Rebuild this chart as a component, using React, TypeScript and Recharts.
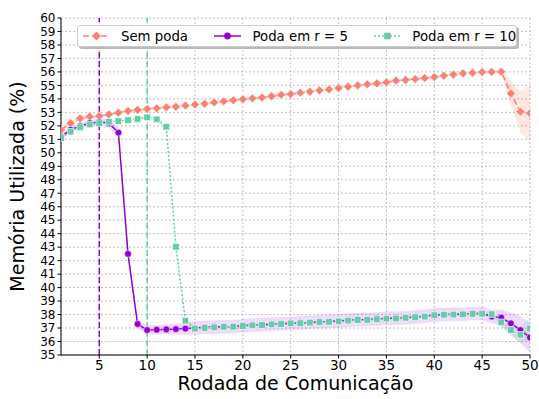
import React from "react";
import {
  Area,
  CartesianGrid,
  ComposedChart,
  Line,
  ReferenceLine,
  XAxis,
  YAxis,
} from "recharts";

const rounds = [
  1, 2, 3, 4, 5, 6, 7, 8, 9, 10, 11, 12, 13, 14, 15, 16, 17, 18, 19, 20, 21, 22, 23, 24, 25,
  26, 27, 28, 29, 30, 31, 32, 33, 34, 35, 36, 37, 38, 39, 40, 41, 42, 43, 44, 45, 46, 47, 48, 49, 50,
];

const semPoda = [
  51.7, 52.2, 52.56, 52.68, 52.73, 52.85, 52.98, 53.1, 53.18, 53.25, 53.3, 53.37, 53.42, 53.5, 53.57,
  53.64, 53.74, 53.82, 53.9, 53.97, 54.04, 54.1, 54.2, 54.3, 54.36, 54.46, 54.53, 54.63, 54.7, 54.8,
  54.9, 55.0, 55.08, 55.15, 55.23, 55.35, 55.4, 55.47, 55.55, 55.62, 55.72, 55.8, 55.9, 55.94, 55.99,
  56.0, 56.02, 54.4, 53.05, 52.93,
];

const podaR5 = [
  51.2, 51.7, 52.0, 52.2, 52.3, 52.2, 51.5, 42.5, 37.3, 36.85, 36.88, 36.9, 36.92, 36.96, 37.0,
  37.05, 37.08, 37.1, 37.12, 37.17, 37.22, 37.24, 37.28, 37.32, 37.36, 37.38, 37.42, 37.46, 37.48,
  37.52, 37.57, 37.62, 37.63, 37.67, 37.72, 37.73, 37.77, 37.82, 37.87, 37.96, 38.0, 38.02, 38.03,
  38.08, 38.08, 37.85, 37.77, 37.35, 36.85, 36.3,
];

const podaR10 = [
  51.1, 51.57, 51.9, 52.1, 52.2, 52.3, 52.35, 52.42, 52.5, 52.63, 52.48, 51.94, 43.03, 37.55, 36.96,
  37.0, 37.05, 37.1, 37.1, 37.15, 37.2, 37.22, 37.27, 37.3, 37.35, 37.36, 37.4, 37.44, 37.46, 37.5,
  37.55, 37.6, 37.61, 37.66, 37.7, 37.71, 37.76, 37.8, 37.85, 37.95, 37.99, 38.0, 38.01, 38.05,
  38.06, 38.03, 37.42, 36.85, 36.5, 36.98,
];

// half width of the shaded bands
const semPodaSpread = [
  0.25, 0.2, 0.15, 0.12, 0.1, 0.1, 0.1, 0.1, 0.1, 0.1, 0.1, 0.1, 0.1, 0.1, 0.1, 0.1, 0.1, 0.1, 0.1,
  0.1, 0.1, 0.1, 0.1, 0.1, 0.1, 0.1, 0.1, 0.1, 0.1, 0.1, 0.1, 0.1, 0.1, 0.1, 0.1, 0.1, 0.1, 0.1, 0.1,
  0.1, 0.1, 0.1, 0.1, 0.1, 0.1, 0.12, 0.15, 0.9, 1.5, 2.1,
];

const podaR5Spread = [
  0.2, 0.2, 0.2, 0.2, 0.25, 0.3, 0.35, 0.3, 0.3, 0.35, 0.35, 0.35, 0.4, 0.45, 0.5, 0.5, 0.5, 0.5, 0.5,
  0.5, 0.5, 0.5, 0.5, 0.5, 0.5, 0.5, 0.5, 0.5, 0.5, 0.5, 0.5, 0.5, 0.5, 0.5, 0.5, 0.5, 0.5, 0.5, 0.5,
  0.5, 0.5, 0.5, 0.5, 0.5, 0.5, 0.5, 0.6, 0.8, 1.0, 1.1,
];

const podaR10Spread = [
  0.1, 0.1, 0.1, 0.1, 0.1, 0.1, 0.1, 0.1, 0.1, 0.1, 0.1, 0.15, 0.3, 0.2, 0.1, 0.1, 0.1, 0.1, 0.1,
  0.1, 0.1, 0.1, 0.1, 0.1, 0.1, 0.1, 0.1, 0.1, 0.1, 0.1, 0.1, 0.1, 0.1, 0.1, 0.1, 0.1, 0.1, 0.1, 0.1,
  0.1, 0.1, 0.1, 0.1, 0.1, 0.1, 0.15, 0.3, 0.45, 0.6, 0.8,
];

const xTicks = [5, 10, 15, 20, 25, 30, 35, 40, 45, 50];
const yTicks = [
  35, 36, 37, 38, 39, 40, 41, 42, 43, 44, 45, 46, 47, 48, 49, 50, 51, 52, 53, 54, 55, 56, 57, 58, 59, 60,
];

const SALMON = "#fa8072";
const VIOLET = "#9400d3";
const AQUA = "#66cdaa";
const FONT = "'DejaVu Sans', sans-serif";

const data = rounds.map((r, i) => ({
  round: r,
  semPoda: semPoda[i],
  podaR5: podaR5[i],
  podaR10: podaR10[i],
  semPodaBand: [semPoda[i] - semPodaSpread[i], semPoda[i] + semPodaSpread[i]],
  podaR5Band: [podaR5[i] - podaR5Spread[i], podaR5[i] + podaR5Spread[i]],
  podaR10Band: [podaR10[i] - podaR10Spread[i], podaR10[i] + podaR10Spread[i]],
}));

const Diamond = (props: any) => {
  const { cx, cy, index } = props;
  if (cx == null || cy == null) return null;
  const s = 4.4;
  return (
    <path
      key={`d-${index}`}
      d={`M${cx},${cy - s}L${cx + s},${cy}L${cx},${cy + s}L${cx - s},${cy}Z`}
      fill={SALMON}
      stroke="#fff"
      strokeWidth={0.5}
    />
  );
};

const Dot = (props: any) => {
  const { cx, cy, index } = props;
  if (cx == null || cy == null) return null;
  return <circle key={`c-${index}`} cx={cx} cy={cy} r={3.4} fill={VIOLET} stroke="#fff" strokeWidth={0.5} />;
};

const Square = (props: any) => {
  const { cx, cy, index } = props;
  if (cx == null || cy == null) return null;
  const s = 3.3;
  return (
    <rect
      key={`s-${index}`}
      x={cx - s}
      y={cy - s}
      width={2 * s}
      height={2 * s}
      fill={AQUA}
      stroke="#fff"
      strokeWidth={0.6}
    />
  );
};

const legendItems = [
  { name: "Sem poda", color: SALMON, dash: "6 3", marker: "diamond" },
  { name: "Poda em r = 5", color: VIOLET, dash: "", marker: "circle" },
  { name: "Poda em r = 10", color: AQUA, dash: "2 2", marker: "square" },
];

function ChartLegend() {
  return (
    <div
      style={{
        position: "absolute",
        left: 77,
        top: 25,
        width: 440,
        height: 22,
        display: "flex",
        alignItems: "center",
        background: "#fff",
        border: "1px solid #cccccc",
        borderRadius: 3,
        boxShadow: "2px 2px 0 #b8b8b8",
        padding: "0 0 0 5px",
        fontFamily: FONT,
        fontSize: 13.3,
        color: "#000",
        boxSizing: "border-box",
        whiteSpace: "nowrap",
      }}
    >
      {legendItems.map((it, i) => (
        <div key={it.name} style={{ display: "flex", alignItems: "center", marginRight: i < 2 ? 26.5 : 0 }}>
          <svg width={27} height={12} style={{ marginRight: 11 }}>
            <line x1={0} y1={6} x2={27} y2={6} stroke={it.color} strokeWidth={1.5} strokeDasharray={it.dash} />
            {it.marker === "diamond" && <path d="M13.5,1.6L17.9,6L13.5,10.4L9.1,6Z" fill={it.color} />}
            {it.marker === "circle" && <circle cx={13.5} cy={6} r={3.4} fill={it.color} />}
            {it.marker === "square" && <rect x={10.2} y={2.7} width={6.6} height={6.6} fill={it.color} />}
          </svg>
          <span>{it.name}</span>
        </div>
      ))}
    </div>
  );
}

export default function App() {
  return (
    <div style={{ position: "absolute", left: 0, top: 0, width: 539, height: 399, background: "#fff" }}>
      <ComposedChart
        width={539}
        height={399}
        data={data}
        margin={{ top: 18, right: 9, bottom: 0, left: 0 }}
      >
        <CartesianGrid stroke="#b0b0b0" strokeDasharray="2 2" strokeWidth={0.8} />
        <XAxis
          dataKey="round"
          type="number"
          domain={[1, 50]}
          ticks={xTicks}
          allowDataOverflow
          height={44}
          tickSize={3.5}
          tickMargin={2}
          axisLine={{ stroke: "#000", strokeWidth: 1 }}
          tickLine={{ stroke: "#000" }}
          tick={{ fill: "#000", fontSize: 13.5, fontFamily: FONT }}
          label={({ viewBox }: any) => (
            <text
              x={viewBox.x + viewBox.width / 2}
              y={390}
              textAnchor="middle"
              fontSize={19}
              fontFamily={FONT}
              fill="#000"
            >
              Rodada de Comunicação
            </text>
          )}
        />
        <YAxis
          type="number"
          domain={[35, 60]}
          ticks={yTicks}
          interval={0}
          allowDataOverflow
          width={61}
          tickSize={3.5}
          tickMargin={2}
          axisLine={{ stroke: "#000", strokeWidth: 1 }}
          tickLine={{ stroke: "#000" }}
          tick={{ fill: "#000", fontSize: 12, fontFamily: FONT }}
          label={({ viewBox }: any) => {
            const cy = viewBox.y + viewBox.height / 2;
            return (
              <text
                x={24}
                y={cy}
                transform={`rotate(-90, 24, ${cy})`}
                textAnchor="middle"
                fontSize={19}
                fontFamily={FONT}
                fill="#000"
              >
                Memória Utilizada (%)
              </text>
            );
          }}
        />
        <Area dataKey="semPodaBand" stroke="none" fill={SALMON} fillOpacity={0.2} isAnimationActive={false} />
        <Area dataKey="podaR5Band" stroke="none" fill={VIOLET} fillOpacity={0.15} isAnimationActive={false} />
        <Area dataKey="podaR10Band" stroke="none" fill={AQUA} fillOpacity={0.2} isAnimationActive={false} />
        <ReferenceLine x={5} stroke={VIOLET} strokeWidth={1.5} strokeDasharray="6 3" />
        <ReferenceLine x={10} stroke={AQUA} strokeWidth={1.5} strokeDasharray="6 3" />
        <Line
          dataKey="semPoda"
          stroke={SALMON}
          strokeWidth={1.5}
          strokeDasharray="6 3"
          dot={Diamond}
          activeDot={false}
          isAnimationActive={false}
        />
        <Line
          dataKey="podaR5"
          stroke={VIOLET}
          strokeWidth={1.5}
          dot={Dot}
          activeDot={false}
          isAnimationActive={false}
        />
        <Line
          dataKey="podaR10"
          stroke={AQUA}
          strokeWidth={1.5}
          strokeDasharray="2 2"
          dot={Square}
          activeDot={false}
          isAnimationActive={false}
        />
      </ComposedChart>
      <ChartLegend />
    </div>
  );
}
